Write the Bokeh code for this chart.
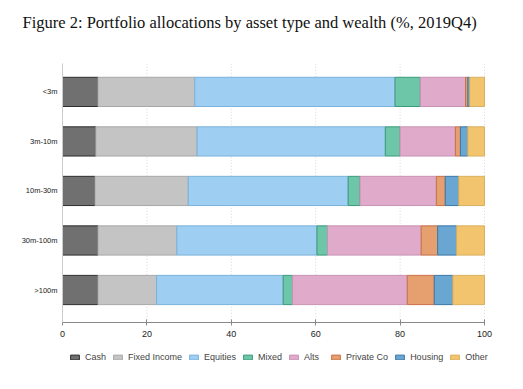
from bokeh.plotting import figure
from bokeh.models import (ColumnDataSource, Legend, LegendItem, FixedTicker, Label,
                          LinearAxis)
from bokeh.embed import file_html
from bokeh.resources import INLINE

groups = ["<3m", "3m-10m", "10m-30m", "30m-100m", ">100m"]
assets = ["Cash", "Fixed Income", "Equities", "Mixed", "Alts", "Private Co", "Housing", "Other"]
cash =       [8.4, 7.9, 7.7, 8.4, 8.4]
fixed_inc =  [22.95, 24.0, 22.1, 18.7, 13.9]
equities =   [47.45, 44.6, 37.9, 33.2, 30.0]
mixed =      [6.0, 3.5, 2.8, 2.5, 2.2]
alts =       [10.7, 13.1, 18.1, 22.2, 27.2]
private_co = [0.55, 1.2, 2.1, 3.9, 6.4]
housing =    [0.45, 1.75, 3.2, 4.5, 4.4]
other =      [3.5, 3.95, 6.1, 6.6, 7.5]
series = [cash, fixed_inc, equities, mixed, alts, private_co, housing, other]
x_ticks = [0, 20, 40, 60, 80, 100]
title_text = "Figure 2: Portfolio allocations by asset type and wealth (%, 2019Q4)"

fills = ["#707070", "#c4c4c4", "#9ecff2", "#6ec6a8", "#e0abca", "#e69f6e", "#6aa6d2", "#f2c46d"]
lines = ["#2e2e2e", "#a8a8a8", "#7ab2da", "#3b9a7c", "#c892b2", "#c9704a", "#3d78a6", "#d9b060"]

ypos = [len(groups) - 1 - i for i in range(len(groups))]

# layout constants (plot area mapping)
AXIS_Y = -0.6623
GRID_TOP = 4.5734

p = figure(frame_width=507, frame_height=373, output_backend="svg", toolbar_location=None,
           x_range=(-14.692, 105.450), y_range=(-1.686, 5.8455),
           x_axis_location=None, y_axis_location=None,
           min_border=0)
p.xgrid.visible = False
p.ygrid.visible = False
p.outline_line_color = None

# title
p.add_layout(Label(x=22, y=351, x_units="screen", y_units="screen", text=title_text,
                   text_font="Liberation Serif", text_font_size="16.5px",
                   text_baseline="middle", text_align="left", text_color="#111111"))

# dotted vertical grid lines at the x ticks
p.segment(x0=x_ticks, y0=[AXIS_Y] * len(x_ticks), x1=x_ticks, y1=[GRID_TOP] * len(x_ticks),
          line_color="#d8d8d8", line_dash="1 2", line_width=1)

items = []
left = [0.0] * len(groups)
for name, vals, fc, lc in zip(assets, series, fills, lines):
    right = [l + v for l, v in zip(left, vals)]
    src = ColumnDataSource(dict(y=ypos, left=left, right=right))
    r = p.hbar(y="y", left="left", right="right", height=0.59, source=src,
               fill_color=fc, line_color=lc, line_width=1)
    items.append(LegendItem(label=name, renderers=[r]))
    left = right

legend = Legend(items=items, orientation="horizontal", location=(69, 11),
                glyph_width=11, glyph_height=6, label_height=9, label_text_font_size="9px",
                label_text_font="Liberation Sans", spacing=6, label_standoff=5,
                padding=2, margin=0, border_line_color=None, background_fill_alpha=0)
p.add_layout(legend, "center")

xaxis = LinearAxis(fixed_location=AXIS_Y, bounds=(0, 100), ticker=FixedTicker(ticks=x_ticks))
xaxis.axis_line_color = "#888888"
xaxis.major_tick_line_color = "#888888"
xaxis.major_tick_in = 3
xaxis.major_tick_out = 3
xaxis.minor_tick_line_color = None
xaxis.major_label_text_font = "Liberation Sans"
xaxis.major_label_text_font_size = "9px"
xaxis.major_label_text_color = "#222222"
xaxis.major_label_standoff = 5
p.add_layout(xaxis, "below")

yaxis = LinearAxis(fixed_location=0, bounds=(AXIS_Y, GRID_TOP), ticker=FixedTicker(ticks=ypos))
yaxis.major_label_overrides = {y: g for y, g in zip(ypos, groups)}
yaxis.axis_line_color = "#cccccc"
yaxis.major_tick_line_color = None
yaxis.major_tick_out = 0
yaxis.major_tick_in = 0
yaxis.minor_tick_line_color = None
yaxis.major_label_text_font = "Liberation Sans"
yaxis.major_label_text_font_size = "7.5px"
yaxis.major_label_text_color = "#222222"
yaxis.major_label_standoff = 5
p.add_layout(yaxis, "left")

open("out.html", "w").write(file_html(p, INLINE))
